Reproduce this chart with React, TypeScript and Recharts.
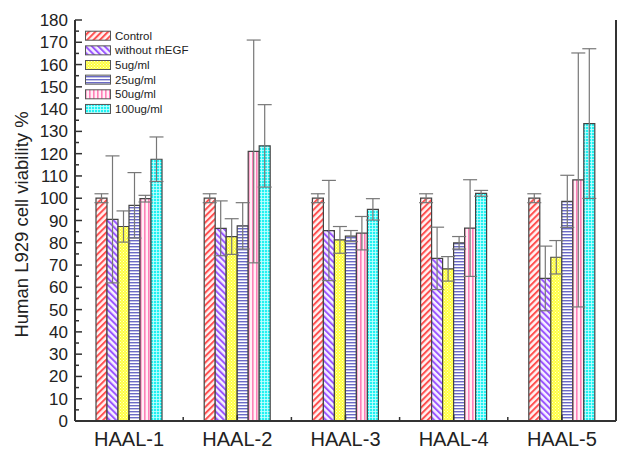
import React from 'react';
import { BarChart, Bar, XAxis, YAxis, ErrorBar } from 'recharts';

const categories = ['HAAL-1', 'HAAL-2', 'HAAL-3', 'HAAL-4', 'HAAL-5'];
const seriesNames = ['Control', 'without rhEGF', '5ug/ml', '25ug/ml', '50ug/ml', '100ug/ml'];
const control = [100, 100, 100, 100, 100];
const controlErr = [2, 2, 2, 2, 2];
const withoutRhEGF = [90.5, 86.5, 85.5, 73, 64];
const withoutErr = [28.5, 12.3, 22.5, 14, 14.5];
const ug5 = [87.3, 82.8, 81.3, 68.3, 73.5];
const ug5Err = [7, 8, 6, 5.5, 7.5];
const ug25 = [96.8, 87.6, 83, 80, 98.6];
const ug25Err = [14.7, 10.4, 2.5, 2.8, 11.7];
const ug50 = [99.8, 121, 84.3, 86.6, 108.2];
const ug50Err = [1.5, 50, 7.5, 21.7, 57];
const ug100 = [117.5, 123.5, 95, 102.2, 133.5];
const ug100Err = [10, 18.5, 4.8, 1.3, 33.6];
const yTicks = Array.from({ length: 37 }, (_, i) => i * 5);

const keys = ['control', 'without', 'ug5', 'ug25', 'ug50', 'ug100'];
const values = [control, withoutRhEGF, ug5, ug25, ug50, ug100];
const errs = [controlErr, withoutErr, ug5Err, ug25Err, ug50Err, ug100Err];
const patternIds = ['pControl', 'pWithout', 'p5', 'p25', 'p50', 'p100'];

const data = categories.map((name, i) => {
  const row: any = { name };
  keys.forEach((k, j) => {
    row[k] = values[j][i];
    row[k + 'Err'] = errs[j][i];
  });
  return row;
});

const W = 617;
const H = 449;
const PLOT_LEFT = 75;
const PLOT_RIGHT = 616;
const PLOT_TOP = 20;
const PLOT_BOTTOM = 421;
const HALF_BAND = (PLOT_RIGHT - PLOT_LEFT) / categories.length / 2;
const AXIS = '#333';
const FONT = 'Liberation Sans, Arial, sans-serif';

const Patterns = () => (
  <svg width={0} height={0} style={{ position: 'absolute', left: 0, top: 0 }}>
    <defs>
      <pattern id="pControl" width={4.5} height={4.5} patternUnits="userSpaceOnUse" patternTransform="rotate(45)">
        <rect width={4.5} height={4.5} fill="#fff4f4" />
        <rect width={2} height={4.5} fill="#ff5050" />
      </pattern>
      <pattern id="pWithout" width={4.5} height={4.5} patternUnits="userSpaceOnUse" patternTransform="rotate(-45)">
        <rect width={4.5} height={4.5} fill="#f6f0ff" />
        <rect width={2} height={4.5} fill="#9a55ff" />
      </pattern>
      <pattern id="p5" width={3} height={3} patternUnits="userSpaceOnUse">
        <rect width={3} height={3} fill="#ffff40" />
        <rect width={1} height={1} fill="#ffffd0" />
        <rect x={1.5} y={1.5} width={1} height={1} fill="#ffffd0" />
      </pattern>
      <pattern id="p25" width={3} height={3} patternUnits="userSpaceOnUse">
        <rect width={3} height={3} fill="#ffffff" />
        <rect width={3} height={1.4} fill="#6a6ac6" />
      </pattern>
      <pattern id="p50" width={4} height={4} patternUnits="userSpaceOnUse">
        <rect width={4} height={4} fill="#fff0f6" />
        <rect width={1.6} height={4} fill="#ff80b8" />
      </pattern>
      <pattern id="p100" width={3} height={3} patternUnits="userSpaceOnUse">
        <rect width={3} height={3} fill="#20f2f2" />
        <rect width={0.8} height={3} fill="#c8ffff" />
        <rect width={3} height={0.8} fill="#c8ffff" />
      </pattern>
    </defs>
  </svg>
);

const LeftTick = (props: any) => {
  const { y, payload } = props;
  const v = payload.value;
  const major = v % 10 === 0;
  return (
    <g>
      <line x1={PLOT_LEFT} x2={PLOT_LEFT + (major ? 7 : 4)} y1={y} y2={y} stroke={AXIS} strokeWidth={1.5} />
      {major && (
        <text x={68} y={y} dy={6} textAnchor="end" fontSize={17} fontFamily={FONT} fill="#222">
          {v}
        </text>
      )}
    </g>
  );
};

const RightTick = (props: any) => {
  const { y, payload } = props;
  const major = payload.value % 10 === 0;
  return <line x1={PLOT_RIGHT - (major ? 7 : 4)} x2={PLOT_RIGHT} y1={y} y2={y} stroke={AXIS} strokeWidth={1.5} />;
};

const BottomTick = (props: any) => {
  const { x, payload, index } = props;
  return (
    <g>
      <line x1={x} x2={x} y1={PLOT_BOTTOM} y2={PLOT_BOTTOM - 6} stroke={AXIS} strokeWidth={1.5} />
      {index < categories.length - 1 && (
        <line x1={x + HALF_BAND} x2={x + HALF_BAND} y1={PLOT_BOTTOM} y2={PLOT_BOTTOM - 4} stroke={AXIS} strokeWidth={1.5} />
      )}
      <text x={x} y={446} textAnchor="middle" fontSize={20} fontFamily={FONT} fill="#222">
        {payload.value}
      </text>
    </g>
  );
};

const TopTick = (props: any) => {
  const { x, index } = props;
  return (
    <g>
      <line x1={x} x2={x} y1={PLOT_TOP} y2={PLOT_TOP + 8} stroke={AXIS} strokeWidth={1.5} />
      {index < categories.length - 1 && (
        <line x1={x + HALF_BAND} x2={x + HALF_BAND} y1={PLOT_TOP} y2={PLOT_TOP + 5} stroke={AXIS} strokeWidth={1.5} />
      )}
    </g>
  );
};

const LegendBox = () => (
  <svg width={200} height={100} style={{ position: 'absolute', left: 85, top: 28 }}>
    {seriesNames.map((n, i) => {
      const cy = 7.7 + i * 14.65;
      return (
        <g key={n}>
          <rect x={0.5} y={cy - 4.5} width={25} height={9} fill={`url(#${patternIds[i]})`} stroke="#555" strokeWidth={1} />
          <text x={30} y={cy + 4} fontSize={11.5} fontFamily={FONT} fill="#222">
            {n}
          </text>
        </g>
      );
    })}
  </svg>
);

export default function App() {
  return (
    <div style={{ position: 'absolute', left: 0, top: 0, width: W, height: H, background: '#fff' }}>
      <Patterns />
      <BarChart
        width={W}
        height={H}
        data={data}
        margin={{ top: PLOT_TOP, right: 0, bottom: 0, left: 0 }}
        barGap={0}
        barSize={11}
      >
        <XAxis
          dataKey="name"
          xAxisId={0}
          height={H - PLOT_BOTTOM}
          axisLine={{ stroke: AXIS, strokeWidth: 2 }}
          tickLine={false}
          tick={<BottomTick />}
          interval={0}
        />
        <XAxis
          dataKey="name"
          xAxisId="top"
          orientation="top"
          height={0}
          axisLine={{ stroke: AXIS, strokeWidth: 2 }}
          tickLine={false}
          tick={<TopTick />}
          interval={0}
        />
        <YAxis
          yAxisId={0}
          width={PLOT_LEFT}
          domain={[0, 180]}
          ticks={yTicks}
          interval={0}
          axisLine={{ stroke: AXIS, strokeWidth: 2 }}
          tickLine={false}
          tick={<LeftTick />}
          label={{
            value: 'Human L929 cell viability %',
            angle: -90,
            position: 'insideLeft',
            dx: 16,
            dy: 4,
            style: { fontSize: 18.5, fontFamily: FONT, fill: '#222', textAnchor: 'middle' },
          }}
        />
        <YAxis
          yAxisId="right"
          orientation="right"
          width={W - PLOT_RIGHT}
          domain={[0, 180]}
          ticks={yTicks}
          interval={0}
          axisLine={{ stroke: AXIS, strokeWidth: 2 }}
          tickLine={false}
          tick={<RightTick />}
        />
        {keys.map((k, j) => (
          <Bar
            key={k}
            dataKey={k}
            name={seriesNames[j]}
            fill={`url(#${patternIds[j]})`}
            stroke="#444"
            strokeWidth={1.2}
            isAnimationActive={false}
          >
            <ErrorBar dataKey={k + 'Err'} width={7} stroke="#777" strokeWidth={1.2} direction="y" />
          </Bar>
        ))}
      </BarChart>
      <LegendBox />
    </div>
  );
}
